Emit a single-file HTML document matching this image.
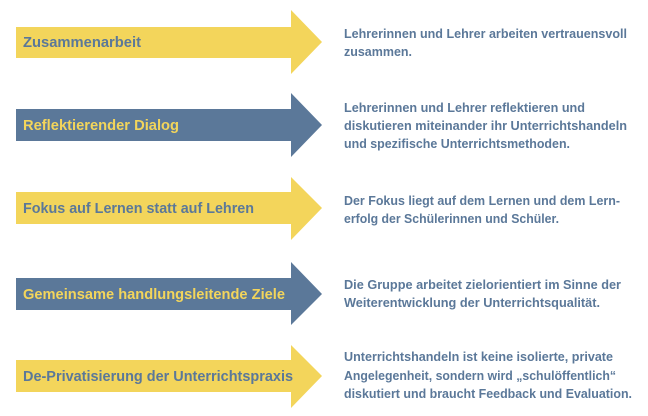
<!DOCTYPE html>
<html><head><meta charset="utf-8"><style>
html,body{margin:0;padding:0;background:#fff;}
svg{display:block;}
.l{font-family:"Liberation Sans",sans-serif;font-weight:bold;font-size:15px;}
.r{font-family:"Liberation Sans",sans-serif;font-weight:bold;font-size:12.5px;fill:#5B7899;}
</style></head><body>
<svg width="648" height="416" viewBox="0 0 648 416" xmlns="http://www.w3.org/2000/svg">
<g>
<polygon points="16,27 291,27 291,10 322,42 291,74 291,58 16,58" fill="#F3D55B"/>
<polygon points="16,109 291,109 291,93 322,125 291,157 291,141 16,141" fill="#5B7899"/>
<polygon points="16,192 291,192 291,177 322,208 291,240 291,224 16,224" fill="#F3D55B"/>
<polygon points="16,278 291,278 291,262 322,294 291,325 291,310 16,310" fill="#5B7899"/>
<polygon points="16,360 291,360 291,345 322,376 291,408 291,392 16,392" fill="#F3D55B"/>
</g>
<text class="l" x="23" y="47" fill="#5B7899" textLength="118" lengthAdjust="spacingAndGlyphs">Zusammenarbeit</text>
<text class="l" x="23" y="130" fill="#F3D55B" textLength="156" lengthAdjust="spacingAndGlyphs">Reflektierender Dialog</text>
<text class="l" x="23" y="213" fill="#5B7899" textLength="231" lengthAdjust="spacingAndGlyphs">Fokus auf Lernen statt auf Lehren</text>
<text class="l" x="23" y="299" fill="#F3D55B" textLength="262" lengthAdjust="spacingAndGlyphs">Gemeinsame handlungsleitende Ziele</text>
<text class="l" x="23" y="381" fill="#5B7899" textLength="270" lengthAdjust="spacingAndGlyphs">De-Privatisierung der Unterrichtspraxis</text>

<text class="r" x="344" y="38" textLength="283" lengthAdjust="spacingAndGlyphs">Lehrerinnen und Lehrer arbeiten vertrauensvoll</text>
<text class="r" x="344" y="56" textLength="68" lengthAdjust="spacingAndGlyphs">zusammen.</text>

<text class="r" x="344" y="112" textLength="241" lengthAdjust="spacingAndGlyphs">Lehrerinnen und Lehrer reflektieren und</text>
<text class="r" x="344" y="130" textLength="283" lengthAdjust="spacingAndGlyphs">diskutieren miteinander ihr Unterrichtshandeln</text>
<text class="r" x="344" y="148" textLength="226" lengthAdjust="spacingAndGlyphs">und spezifische Unterrichtsmethoden.</text>

<text class="r" x="344" y="205" textLength="276" lengthAdjust="spacingAndGlyphs">Der Fokus liegt auf dem Lernen und dem Lern-</text>
<text class="r" x="344" y="223" textLength="215" lengthAdjust="spacingAndGlyphs">erfolg der Schülerinnen und Schüler.</text>

<text class="r" x="344" y="289" textLength="277" lengthAdjust="spacingAndGlyphs">Die Gruppe arbeitet zielorientiert im Sinne der</text>
<text class="r" x="344" y="307" textLength="256" lengthAdjust="spacingAndGlyphs">Weiterentwicklung der Unterrichtsqualität.</text>

<text class="r" x="344" y="361" textLength="269" lengthAdjust="spacingAndGlyphs">Unterrichtshandeln ist keine isolierte, private</text>
<text class="r" x="344" y="380" textLength="272" lengthAdjust="spacingAndGlyphs">Angelegenheit, sondern wird „schulöffentlich“</text>
<text class="r" x="344" y="398" textLength="288" lengthAdjust="spacingAndGlyphs">diskutiert und braucht Feedback und Evaluation.</text>
</svg>
</body></html>
